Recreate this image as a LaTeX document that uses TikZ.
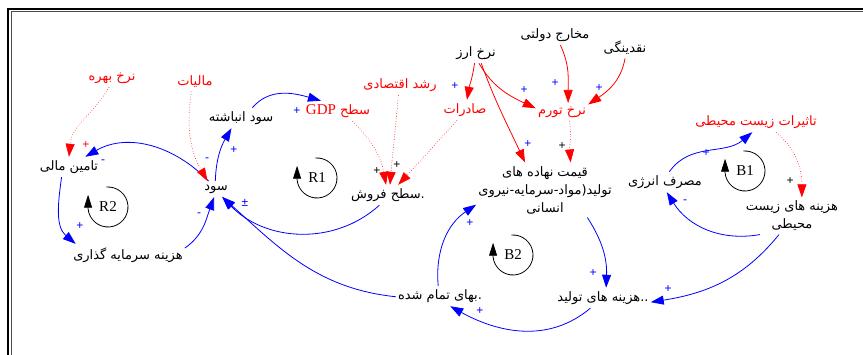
\documentclass[tikz,border=0pt]{standalone}
\usepackage{fontspec}
\setmainfont{Liberation Serif}
\newfontfamily\fa[Script=Arabic]{DejaVu Sans}
\newfontfamily\sgn{Liberation Sans}
\TeXXeTstate=1
\usetikzlibrary{arrows.meta}

\begin{document}
\begin{tikzpicture}[x=1pt,y=1pt,
  vblack/.style={font=\fa\fontsize{13}{18}\selectfont,inner xsep=2pt,inner ysep=3.5pt,align=center},
  vred/.style={vblack,text=red},
  pol/.style={font=\sgn\fontsize{12}{12}\selectfont,inner sep=0pt},
  loopl/.style={font=\fontsize{15}{15}\selectfont,inner sep=0pt},
  link/.style={blue,line width=0.8pt,-{Triangle[length=13pt,width=9pt]}},
  rlink/.style={link,red},
  dlink/.style={red,dotted,line width=0.6pt,-{Triangle[length=13pt,width=9pt]}},
  loopm/.style={black,line width=0.8pt,-{Triangle[length=13pt,width=8pt]}}]
  \useasboundingbox (0,0) rectangle (863,355);
  % frame
  \draw[line width=2pt] (8,0) -- (8,345.7) -- (863,345.7);
  \draw[line width=0.8pt,black!70] (11.3,0) -- (11.3,343.3) -- (863,343.3);

  % variables
  \node[vred] (bahre) at (112,277) {\beginR نرخ بهره\endR};
  \node[vred] (maliat) at (195,273) {\beginR مالیات\endR};
  \node[vblack] (tamin) at (69,188) {\beginR تامین مالی\endR};
  \node[vblack] (anbashte) at (241,237) {\beginR سود انباشته\endR};
  \node[vred] (gdp) at (338,244) {\beginR سطح \beginL{\rmfamily\fontsize{15}{15}\selectfont GDP}\endL\endR};
  \node[vred] (roshd) at (400,270) {\beginR رشد اقتصادی\endR};
  \node[vred] (saderat) at (465,245) {\beginR صادرات\endR};
  \node[vblack] (arz) at (476,302) {\beginR نرخ ارز\endR};
  \node[vblack] (makharej) at (555,320) {\beginR مخارج دولتی\endR};
  \node[vblack] (naqd) at (625,307) {\beginR نقدینگی\endR};
  \node[vred] (tavarom) at (562,243) {\beginR نرخ تورم\endR};
  \node[vblack] (qeymat) at (545,165) {\beginR قیمت نهاده های\endR\\\beginR تولید(مواد-سرمایه-نیروی\endR\\\beginR انسانی\endR};
  \node[vred] (tasirat) at (756,233) {\beginR تاثیرات زیست محیطی\endR};
  \node[vblack] (energy) at (665,173) {\beginR مصرف انرژی\endR};
  \node[vblack] (zist) at (792,139) {\beginR هزینه های زیست\endR\\\beginR محیطی\endR};
  \node[vblack] (sood) at (216,166) {\beginR سود\endR};
  \node[vblack] (foroosh) at (388,160) {\beginR .سطح فروش\endR};
  \node[vblack] (bahaye) at (440,59) {\beginR .بهای تمام شده\endR};
  \node[vblack] (tolid) at (603,57) {\beginR ..هزینه های تولید\endR};
  \node[vblack] (sarmaye) at (128,100) {\beginR هزینه سرمایه گذاری\endR};

  % loop labels
  \node[loopl] (r2) at (108,148) {R2};
  \node[loopl] (r1) at (317,177) {R1};
  \node[loopl] (b2) at (513,100) {B2};
  \node[loopl] (b1) at (745,184) {B1};
  \foreach \l in {r2,r1,b2,b1}
    \draw[loopm] (\l.center) ++(95:20) arc[start angle=95,end angle=-175,radius=20] -- ++(0,14);

  % blue links
  \draw[link] (sood.133) to[out=134,in=30] (tamin.32);
  \draw[link] (tamin.234) to[out=262,in=140] (sarmaye.168);
  \draw[link] (sarmaye.7) to[out=35,in=250] (sood.257);
  \draw[link] (sood.95) to[out=88,in=240] (anbashte.227);
  \draw[link] (anbashte.42) to[out=50,in=164] (gdp.149);
  \draw[link] (foroosh.230) to[out=222,in=314] (sood.308);
  \draw[link] (bahaye.181) to[out=174,in=318] (sood.308);
  \draw[link] (bahaye.100) to[out=95,in=214] (qeymat.192);
  \draw[link] (tolid.219) to[out=220,in=331] (bahaye.315);
  \draw[link] (qeymat.327) to[out=303,in=88] (tolid.73);
  \draw[link] (zist.235) to[out=231,in=9] (tolid.355);
  \draw[link] (zist.210) to[out=190,in=302] (energy.280);
  \draw[link] (energy.67) to[out=55,in=220] (tasirat.250);

  % red links
  \draw[rlink] (arz.262) to[out=262,in=80] (saderat.79);
  \draw[rlink] (arz.286) to[out=300,in=155] (tavarom.172);
  \draw[rlink] (arz.297) to[out=290,in=115] (qeymat.126);
  \draw[rlink] (makharej.298) to[out=295,in=90] (tavarom.56);
  \draw[rlink] (naqd.270) to[out=260,in=34] (tavarom.16);

  % dotted links
  \draw[dlink] (bahre.252) to[out=240,in=85] (tamin.90);
  \draw[dlink] (maliat.249) to[out=262,in=120] (sood.137);
  \draw[dlink] (gdp.325) to[out=315,in=100] (foroosh.101);
  \draw[dlink] (roshd.261) to[out=265,in=85] (foroosh.79);
  \draw[dlink] (saderat.232) to[out=228,in=47] (foroosh.45);
  \draw[dlink] (tavarom.309) to[out=280,in=95] (qeymat.47);
  \draw[dlink] (tasirat.333) to[out=320,in=90] (zist.62);

  % polarities
  \foreach \x/\y/\c/\s [count=\i] in {86/210/red/+,103/193/blue/-,207/195/blue/-,234/205/blue/+,
      297/244/blue/+,455/269/blue/+,524/265/blue/+,555/272/blue/+,599/267/blue/+,
      528/211/blue/+,562/209/black/+,377/184/black/+,397/190/black/+,706/202/blue/+,
      790/174/black/+,685/153/blue/-,668/66/blue/+,593/82/blue/+,480/44/blue/+,
      470/132/blue/+,80/129/blue/+,199/140/blue/-,245/152/blue/±}
    \node[pol,text=\c] (p\i) at (\x,\y) {\s};
\end{tikzpicture}
\end{document}
